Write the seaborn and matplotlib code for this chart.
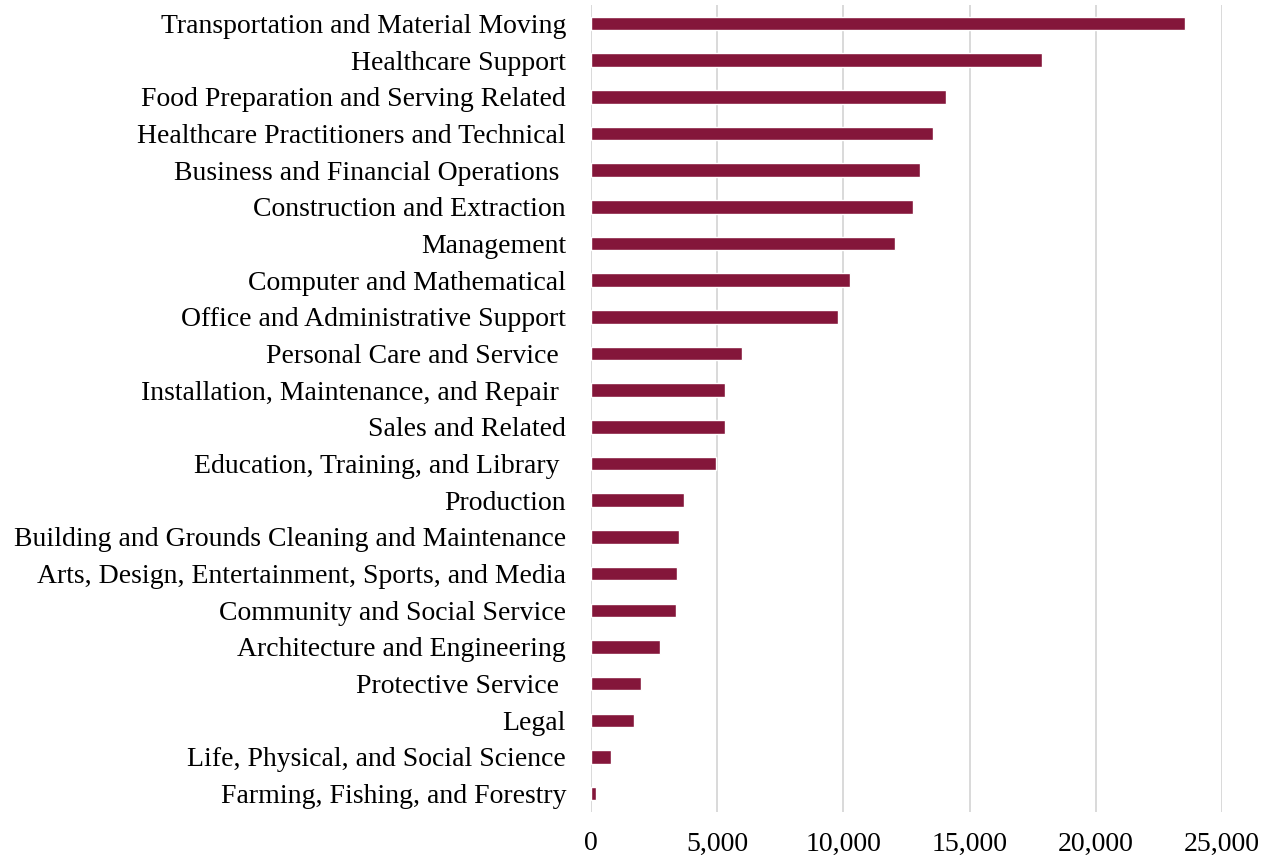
import matplotlib
matplotlib.use("Agg")
import matplotlib.pyplot as plt
import seaborn as sns
import pandas as pd
from matplotlib.ticker import FuncFormatter

categories = [
    "Transportation and Material Moving",
    "Healthcare Support",
    "Food Preparation and Serving Related",
    "Healthcare Practitioners and Technical",
    "Business and Financial Operations ",
    "Construction and Extraction",
    "Management",
    "Computer and Mathematical",
    "Office and Administrative Support",
    "Personal Care and Service ",
    "Installation, Maintenance, and Repair ",
    "Sales and Related",
    "Education, Training, and Library ",
    "Production",
    "Building and Grounds Cleaning and Maintenance",
    "Arts, Design, Entertainment, Sports, and Media",
    "Community and Social Service",
    "Architecture and Engineering",
    "Protective Service ",
    "Legal",
    "Life, Physical, and Social Science",
    "Farming, Fishing, and Forestry",
]
values = [
    23540, 17850, 14080, 13540, 13020, 12760, 12030, 10270, 9780,
    6000, 5320, 5290, 4960, 3700, 3500, 3400, 3370, 2730, 2000,
    1690, 780, 190,
]
x_ticks = [0, 5000, 10000, 15000, 20000, 25000]

df = pd.DataFrame({"category": categories, "value": values})

sns.set_theme(style="white")
plt.rcParams["font.family"] = ["Liberation Serif", "DejaVu Serif"]

fig = plt.figure(figsize=(12.71, 8.60), dpi=100)
ax = fig.add_axes([0.465, 0.0558, 0.4965, 0.9382])

sns.barplot(data=df, x="value", y="category", orient="h", color="#84163A",
            saturation=1, width=0.37, ax=ax, order=categories)

ax.set_xlim(0, 25000)
ax.set_ylim(len(categories) - 0.5, -0.5)
ax.set_xticks(x_ticks)
ax.xaxis.set_major_formatter(FuncFormatter(lambda v, p: f"{int(v):,}"))
ax.grid(axis="x", color="#D9D9D9", linewidth=1.4)
ax.set_axisbelow(True)
for s in ax.spines.values():
    s.set_visible(False)
ax.set_xlabel("")
ax.set_ylabel("")
ax.tick_params(axis="y", length=0, pad=18, labelsize=20, colors="black")
ax.tick_params(axis="x", length=0, pad=14, labelsize=20, colors="black")

fig.savefig("out.png", dpi=100)
